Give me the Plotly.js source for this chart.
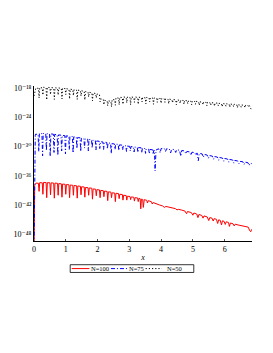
<!DOCTYPE html>
<html>
<head>
<meta charset="utf-8">
<script src="https://cdn.plot.ly/plotly-3.0.1.min.js"></script>
<style>html,body{margin:0;padding:0;background:#fff;}#chart{width:273px;height:353px;}</style>
</head>
<body>
<div id="chart"></div>
<script>
// Series names and colours
const seriesNames = ["N=100", "N=75", "N=50"];
const seriesColors = ["#ff0000", "#0000ff", "#000000"];

// N=100 : x and log10(value)
const redX = [0,0.02,0.05,
  0.06,0.14,0.16, 0.18,0.26,0.28, 0.30,0.38,0.40, 0.42,0.50,0.52, 0.54,0.62,0.64,
  0.66,0.74,0.76, 0.78,0.86,0.88, 0.90,0.98,1.00, 1.02,1.10,1.12, 1.14,1.22,1.24,
  1.26,1.34,1.36, 1.38,1.46,1.48, 1.50,1.58,1.60, 1.62,1.70,1.72, 1.74,1.82,1.84,
  1.86,1.94,1.96, 1.98,2.06,2.08, 2.10,2.18,2.20, 2.22,2.30,2.32, 2.34,2.42,2.44,
  2.46,2.54,2.56, 2.58,2.66,2.68, 2.70,2.78,2.80, 2.82,2.90,2.92, 2.94,3.02,3.04,
  3.06,3.14,3.16, 3.18,3.26,3.28, 3.30,3.34,3.36,
  3.38,3.42,3.44,3.47,3.55,3.57,3.60,3.70,3.72,3.75,
  3.85,3.95,4.05,4.10,4.15,4.25,4.35,4.45,4.50,4.55,
  4.65,4.75,4.80,4.83,4.95,5.00,5.03,5.12,5.16,5.19,
  5.28,5.32,5.35,5.45,5.50,5.53,5.60,5.64,5.67,5.74,
  5.78,5.81,5.86,5.90,5.93,5.98,6.02,6.05,6.12,6.15,
  6.18,6.26,6.30,6.33,6.42,6.52,6.60,6.68,6.74,6.79,
  6.82,6.85];
const redLog = [-52,-38.0,-37.6,
  -37.5,-37.55,-39.2, -37.4,-37.45,-39.8, -37.35,-37.4,-40.5, -37.4,-37.45,-39.9, -37.45,-37.5,-40.6,
  -37.5,-37.55,-40.0, -37.6,-37.65,-40.4, -37.7,-37.75,-39.8, -37.8,-37.85,-40.5, -37.9,-37.95,-40.0,
  -38.0,-38.05,-40.6, -38.1,-38.15,-39.9, -38.25,-38.3,-40.4, -38.4,-38.45,-40.0, -38.5,-38.55,-40.8,
  -38.7,-38.75,-40.1, -38.85,-38.9,-40.5, -39.0,-39.05,-40.3, -39.15,-39.2,-41.1, -39.3,-39.35,-40.5,
  -39.5,-39.55,-41.3, -39.6,-39.65,-40.7, -39.8,-39.85,-41.0, -40.0,-40.05,-41.0, -40.2,-40.25,-40.9,
  -40.35,-40.4,-41.2, -40.5,-40.55,-41.3, -40.65,-40.7,-42.8,
  -40.8,-40.85,-42.5,-40.9,-41.05,-41.6,-41.1,-41.35,-41.8,-41.5,
  -41.8,-42.0,-42.2,-42.5,-42.3,-42.45,-42.6,-42.75,-43.0,-42.9,
  -43.05,-43.25,-43.8,-43.35,-43.55,-44.1,-43.65,-43.85,-44.6,-43.95,
  -44.15,-44.7,-44.25,-44.45,-45.2,-44.6,-44.7,-45.3,-44.8,-44.95,
  -45.8,-45.05,-45.15,-46.1,-45.25,-45.35,-46.0,-45.45,-45.6,-46.4,
  -45.7,-45.85,-46.3,-45.95,-46.1,-46.2,-46.3,-46.45,-46.55,-47.3,
  -47.5,-47.0];

// N=75
const blueX = [0,0.02,0.04,
  0.05,0.13,0.15, 0.17,0.25,0.27, 0.29,0.37,0.39, 0.41,0.49,0.51, 0.53,0.61,0.63,
  0.65,0.73,0.75, 0.77,0.85,0.87, 0.89,0.97,0.99, 1.01,1.09,1.11, 1.13,1.21,1.23,
  1.25,1.33,1.35, 1.37,1.45,1.47, 1.49,1.57,1.59, 1.61,1.69,1.71, 1.73,1.81,1.83,
  1.85,1.93,1.95, 1.97,2.05,2.07, 2.09,2.17,2.19, 2.21,2.29,2.31, 2.33,2.41,2.43,
  2.45,2.53,2.55, 2.57,2.65,2.67, 2.69,2.77,2.79, 2.81,2.89,2.91, 2.93,3.01,3.03,
  3.05,3.13,3.15, 3.17,3.25,3.27, 3.29,3.37,3.39, 3.41,3.49,3.51, 3.53,3.61,3.63,
  3.65,3.73,3.75,
  3.77,3.79,3.81,3.84,
  3.92,3.97,4.00, 4.10,4.14,4.17, 4.26,4.30,4.33, 4.42,4.46,4.49, 4.58,4.62,4.65,
  4.74,4.78,4.81, 4.90,4.94,4.97, 5.06,5.10,5.13, 5.17,5.20,
  5.29,5.33,5.36, 5.45,5.49,5.52, 5.61,5.65,5.68, 5.77,5.81,5.84, 5.93,5.97,6.00,
  6.09,6.13,6.16, 6.25,6.29,6.32, 6.41,6.45,6.48, 6.57,6.61,6.64, 6.73,6.77,6.80,
  6.85];
const blueLog = [-52,-28.8,-27.7,
  -27.45,-27.5,-31.0, -27.3,-27.35,-31.9, -27.3,-27.35,-30.8, -27.35,-27.4,-32.0, -27.4,-27.45,-31.2,
  -27.5,-27.55,-31.8, -27.6,-27.65,-30.9, -27.7,-27.75,-31.5, -27.8,-27.85,-30.6, -27.9,-27.95,-31.3,
  -28.0,-28.05,-30.4, -28.15,-28.2,-31.0, -28.3,-28.35,-30.3, -28.4,-28.45,-30.9, -28.55,-28.6,-30.3,
  -28.7,-28.75,-30.7, -28.85,-28.9,-30.4, -29.0,-29.05,-30.6, -29.1,-29.15,-30.5, -29.25,-29.3,-31.4,
  -29.4,-29.45,-30.6, -29.5,-29.55,-30.8, -29.65,-29.7,-30.7, -29.8,-29.85,-31.0, -29.9,-29.95,-30.9,
  -30.0,-30.05,-31.1, -30.1,-30.15,-31.2, -30.2,-30.25,-31.3, -30.35,-30.4,-31.4, -30.5,-30.55,-31.5,
  -30.6,-30.65,-31.6,
  -30.75,-30.8,-35.0,-30.7,
  -30.45,-31.3,-30.4, -30.4,-31.0,-30.45, -30.5,-31.3,-30.55, -30.6,-31.2,-30.65, -30.75,-32.0,-30.8,
  -30.9,-31.5,-31.0, -31.1,-31.8,-31.15, -31.25,-31.8,-31.3, -32.9,-31.4,
  -31.5,-32.2,-31.6, -31.75,-32.4,-31.85, -31.95,-32.6,-32.05, -32.15,-32.8,-32.25, -32.35,-33.0,-32.45,
  -32.55,-33.2,-32.65, -32.75,-33.4,-32.85, -32.95,-33.5,-33.05, -33.1,-33.7,-33.2, -33.3,-33.9,-33.4,
  -33.5];

// N=50
const blackX = [0,0.02,0.05,
  0.06,0.14,0.16, 0.18,0.26,0.28, 0.30,0.38,0.40, 0.42,0.50,0.52, 0.54,0.62,0.64,
  0.66,0.74,0.76, 0.78,0.86,0.88, 0.90,0.98,1.00, 1.02,1.10,1.12, 1.14,1.22,1.24,
  1.26,1.34,1.36, 1.38,1.46,1.48, 1.50,1.58,1.60, 1.62,1.70,1.72, 1.74,1.82,1.84,
  1.86,1.94,1.96, 1.98,2.06,2.08, 2.10,2.18,2.20, 2.22,2.30,2.32, 2.34,2.42,2.44,
  2.46,2.54,2.56, 2.58,2.66,2.68, 2.70,2.78,2.80, 2.82,2.90,2.92, 2.94,3.02,3.04,
  3.06,3.14,3.16, 3.18,3.26,3.28, 3.30,3.38,3.40, 3.42,3.50,3.52, 3.54,3.62,3.64,
  3.66,3.74,3.76, 3.78,3.86,3.88, 3.90,3.98,4.00, 4.02,4.10,4.12, 4.14,4.22,4.24,
  4.26,4.34,4.36, 4.38,4.46,4.48, 4.50,4.58,4.60, 4.62,4.70,4.72, 4.74,4.82,4.84,
  4.86,4.94,4.96, 4.98,5.06,5.08, 5.10,5.18,5.20, 5.22,5.30,5.32, 5.34,5.42,5.44,
  5.46,5.54,5.56, 5.58,5.66,5.68, 5.70,5.78,5.80, 5.82,5.90,5.92, 5.94,6.02,6.04,
  6.06,6.14,6.16, 6.18,6.26,6.28, 6.30,6.38,6.40, 6.42,6.50,6.52, 6.54,6.62,6.64,
  6.66,6.74,6.76,
  6.78,6.83];
const blackLog = [-19.6,-18.7,-18.2,
  -17.95,-18.05,-20.0, -17.85,-17.95,-19.4, -17.8,-17.9,-20.4, -17.8,-17.9,-19.3, -17.85,-17.95,-20.3,
  -17.9,-18.0,-19.4, -17.95,-18.05,-20.2, -18.0,-18.1,-19.3, -18.1,-18.2,-20.2, -18.2,-18.3,-19.5,
  -18.3,-18.4,-20.3, -18.4,-18.5,-19.6, -18.55,-18.65,-20.4, -18.7,-18.8,-19.8, -18.85,-18.95,-20.6,
  -19.0,-19.1,-20.0, -19.2,-19.3,-20.8, -20.2,-20.3,-21.4, -20.5,-20.6,-21.6, -20.6,-20.7,-21.8,
  -20.3,-20.4,-21.5, -19.95,-20.05,-21.4, -19.85,-19.95,-21.3, -19.8,-19.9,-21.0, -19.8,-19.9,-21.4,
  -19.8,-19.9,-20.9, -19.8,-19.9,-21.3, -19.85,-19.95,-20.8, -19.9,-20.0,-21.2, -19.9,-20.0,-20.8,
  -19.95,-20.05,-21.3, -20.0,-20.1,-20.9, -20.05,-20.15,-21.1, -20.1,-20.2,-20.9, -20.2,-20.3,-21.2,
  -20.25,-20.35,-21.0, -20.3,-20.4,-21.4, -20.4,-20.5,-21.1, -20.45,-20.55,-21.3, -20.5,-20.6,-21.2,
  -20.6,-20.7,-21.4, -20.65,-20.75,-21.3, -20.7,-20.8,-21.5, -20.8,-20.9,-21.4, -20.85,-20.95,-21.6,
  -20.9,-21.0,-21.5, -20.95,-21.05,-21.7, -21.0,-21.1,-21.6, -21.1,-21.2,-21.8, -21.15,-21.25,-21.7,
  -21.2,-21.3,-21.9, -21.25,-21.35,-21.8, -21.3,-21.4,-22.0, -21.4,-21.5,-21.9, -21.45,-21.55,-22.0,
  -21.5,-21.6,-21.9,
  -21.6,-22.3];

// Axis ticks
const xTicks = [0,1,2,3,4,5,6];
const yTickExp = [-18,-24,-30,-36,-42,-48];

const toVal = a => a.map(e => Math.pow(10, e));
const serif = "Liberation Serif, DejaVu Serif, Times New Roman, serif";
const dashes = ["solid", "4px,2px,1px,2px", "1.2px,2px"];
const supMap = {"-": "\u207B", "0": "\u2070", "1": "\u00B9", "2": "\u00B2", "3": "\u00B3", "4": "\u2074", "5": "\u2075", "6": "\u2076", "7": "\u2077", "8": "\u2078", "9": "\u2079"};
const supText = e => "10" + String(e).split("").map(c => supMap[c]).join("");

const traces = [
  {x: redX, y: toVal(redLog), name: seriesNames[0], mode: "lines", line: {color: seriesColors[0], width: 1, dash: dashes[0]}, showlegend: false},
  {x: blueX, y: toVal(blueLog), name: seriesNames[1], mode: "lines", line: {color: seriesColors[1], width: 1, dash: dashes[1]}, showlegend: false},
  {x: blackX, y: toVal(blackLog), name: seriesNames[2], mode: "lines", line: {color: seriesColors[2], width: 1, dash: dashes[2]}, showlegend: false}
];

// compact legend drawn in paper coordinates
const legItems = [
  {x0: 0.173, x1: 0.254, tx: 0.258},
  {x0: 0.353, x1: 0.428, tx: 0.430},
  {x0: 0.512, x1: 0.586, tx: 0.606}
];
const legY = -0.178;
const shapes = [{type: "rect", xref: "paper", yref: "paper", x0: 0.166, x1: 0.733, y0: -0.153, y1: -0.203, line: {color: "#000", width: 0.8}, fillcolor: "rgba(0,0,0,0)"}];
const annotations = [];
legItems.forEach((it, i) => {
  shapes.push({type: "line", xref: "paper", yref: "paper", x0: it.x0, x1: it.x1, y0: legY, y1: legY, line: {color: seriesColors[i], width: 1, dash: dashes[i]}});
  annotations.push({xref: "paper", yref: "paper", x: it.tx, y: legY, xanchor: "left", yanchor: "middle", borderpad: 0, text: seriesNames[i], showarrow: false, font: {family: serif, size: 6.5, color: "#000"}});
});

const layout = {
  width: 273, height: 353,
  margin: {l: 34, r: 21, t: 86, b: 112},
  paper_bgcolor: "#fff", plot_bgcolor: "#fff",
  showlegend: false,
  font: {family: serif, size: 8, color: "#000"},
  xaxis: {
    range: [0, 6.86], showgrid: false, zeroline: false,
    showline: true, linecolor: "#000", linewidth: 1,
    tickvals: xTicks, ticktext: xTicks.map(String),
    ticks: "inside", ticklen: 2, tickcolor: "#555",
    tickfont: {family: serif, size: 8},
    title: {text: "<i>x</i>", font: {family: serif, size: 8}, standoff: 1}
  },
  yaxis: {
    type: "log", range: [-49.4, -17.55], showgrid: false, zeroline: false,
    showline: true, linecolor: "#000", linewidth: 1,
    tickvals: yTickExp.map(e => Math.pow(10, e)),
    ticktext: yTickExp.map(supText),
    ticks: "", tickfont: {family: serif, size: 8}
  },
  shapes: shapes,
  annotations: annotations
};

Plotly.newPlot("chart", traces, layout, {displayModeBar: false});
</script>
</body>
</html>
